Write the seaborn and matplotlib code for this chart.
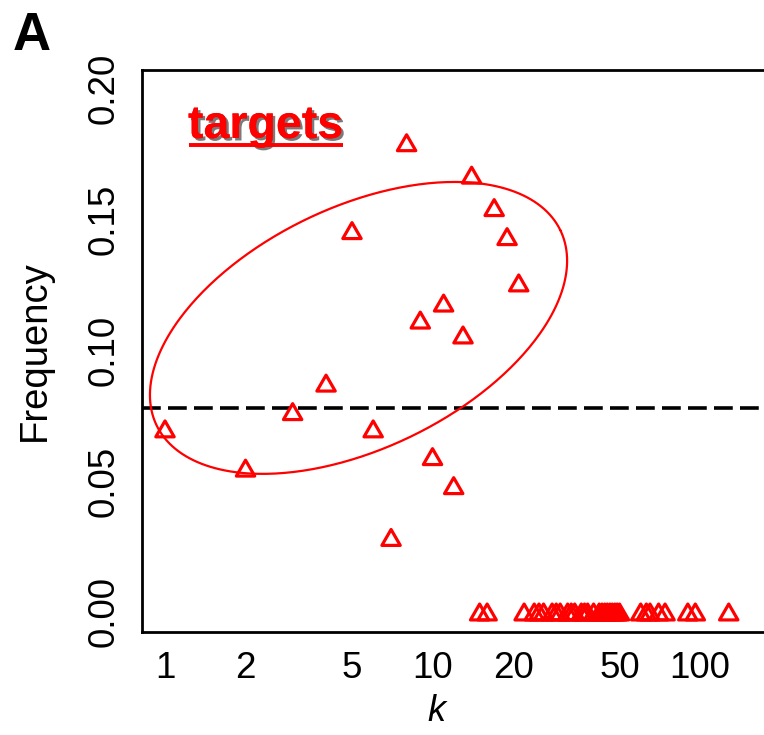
import numpy as np
import pandas as pd
import matplotlib
matplotlib.use("Agg")
import matplotlib.pyplot as plt
import matplotlib.patheffects as pe
from matplotlib.lines import Line2D
from matplotlib.path import Path
import seaborn as sns

# k values with a non-zero target frequency
k_hits = [1, 2, 3, 4, 5, 6, 7, 8, 9, 10, 11, 12, 13, 14, 17, 19, 21]
freq_hits = [0.0700, 0.0550, 0.0766, 0.0875, 0.1458, 0.0700, 0.0285, 0.1794,
             0.1116, 0.0594, 0.1181, 0.0483, 0.1059, 0.1670, 0.1546, 0.1435,
             0.1258]

# k values with no targets
k_none = [15, 16, 22, 24, 25, 26, 28, 29, 30, 32, 33, 34, 36, 37, 38, 40, 42,
          43, 44, 45, 46, 47, 48, 49, 50, 60, 63, 65, 70, 74, 90, 96, 128]
freq_none = [0.0] * len(k_none)

x_ticks = [1, 2, 5, 10, 20, 50, 100]
x_tick_labels = ["1", "2", "5", "10", "20", "50", "100"]
y_ticks = [0.00, 0.05, 0.10, 0.15, 0.20]
y_tick_labels = ["0.00", "0.05", "0.10", "0.15", "0.20"]

# expected (background) frequency
baseline_freq = 0.078

# highlighted region, given in (log10 k, frequency) space
ell_center = (0.7234, 0.1086)
ell_major = (0.7546, 0.0373)
ell_minor = (-0.1962, 0.0415)

df = pd.DataFrame({"k": k_hits + k_none, "freq": freq_hits + freq_none})

sns.set_style("white")
plt.rcParams["font.family"] = ["Liberation Sans", "DejaVu Sans"]
plt.rcParams["text.color"] = "black"
plt.rcParams["axes.labelcolor"] = "black"

W, H = 764, 735
fig = plt.figure(figsize=(W / 100, H / 100), dpi=100)
ax_left, ax_right, ax_top, ax_bottom = 142, 790, 70, 632
ax = fig.add_axes([ax_left / W, (H - ax_bottom) / H,
                   (ax_right - ax_left) / W, (ax_bottom - ax_top) / H])

ax.set_xscale("log")
ax.set_xlim(0.8204, 216.9)
ax.set_ylim(-0.00765, 0.2072)

# open equilateral triangle marker
tri = Path([(0.0, 0.866), (-1.0, -0.866), (1.0, -0.866), (0.0, 0.866)],
           closed=True)
sns.scatterplot(data=df, x="k", y="freq", marker=tri, s=175, color="red",
                facecolor="none", edgecolor="red", linewidth=2.3,
                legend=False, ax=ax, zorder=3)

ax.axhline(baseline_freq, color="black", lw=2.6, ls=(0, (5.2, 2.0)),
           zorder=2)

t = np.linspace(0, 2 * np.pi, 400)
ell_logk = ell_center[0] + ell_major[0] * np.cos(t) + ell_minor[0] * np.sin(t)
ell_freq = ell_center[1] + ell_major[1] * np.cos(t) + ell_minor[1] * np.sin(t)
ax.plot(10 ** ell_logk, ell_freq, color="red", lw=1.6, zorder=2)

ax.set_xticks(x_ticks)
ax.set_xticklabels(x_tick_labels)
ax.xaxis.set_minor_locator(matplotlib.ticker.NullLocator())
ax.set_yticks(y_ticks)
ax.set_yticklabels(y_tick_labels, rotation=90, va="center")

ax.tick_params(axis="both", direction="out", length=10, width=2,
               labelsize=26.5, color="black", labelcolor="black")
ax.tick_params(axis="x", pad=4)
ax.tick_params(axis="y", pad=5)

for side in ["left", "bottom", "top", "right"]:
    ax.spines[side].set_visible(True)
    ax.spines[side].set_color("black")
    ax.spines[side].set_linewidth(2)

ax.set_xlabel("k", fontsize=26, style="italic")
ax.xaxis.set_label_coords((436 - ax_left) / (ax_right - ax_left), -0.11)
ax.set_ylabel("Frequency", fontsize=27.5)
ax.yaxis.set_label_coords((53 - ax_left) / (ax_right - ax_left), 0.5)

shadow = [pe.withSimplePatchShadow(offset=(1.8, -1.8), shadow_rgbFace="#222222",
                                   alpha=0.6), pe.Normal()]
label = ax.text((188 - ax_left) / (ax_right - ax_left),
                ((H - 138) - (H - ax_bottom)) / (ax_bottom - ax_top),
                "targets", transform=ax.transAxes, color="red",
                fontsize=33.5, fontweight="bold", ha="left", va="baseline",
                path_effects=shadow, zorder=4)

fig.text(13 / W, 1 - 50 / H, "A", fontsize=38, fontweight="bold",
         ha="left", va="baseline", color="black")

# underline below the "targets" label
fig.canvas.draw()
bb = label.get_window_extent(fig.canvas.get_renderer())
y_ul = H - 145
p0 = fig.transFigure.inverted().transform((bb.x0 + 1, y_ul))
p1 = fig.transFigure.inverted().transform((bb.x1 - 1, y_ul))
fig.add_artist(Line2D([p0[0], p1[0]], [p0[1], p1[1]],
                      transform=fig.transFigure, color="red", lw=2.6,
                      solid_capstyle="butt", path_effects=shadow))

fig.savefig("out.png", dpi=100)
